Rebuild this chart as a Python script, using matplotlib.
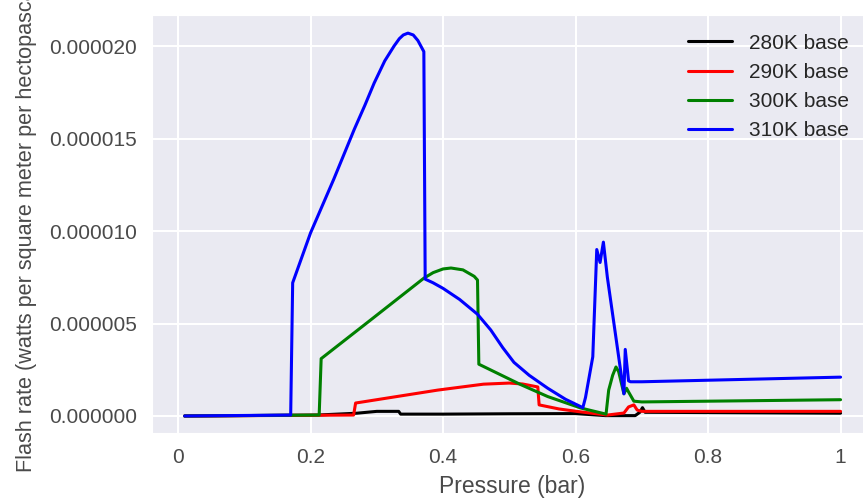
import matplotlib
matplotlib.use("Agg")
from matplotlib import pyplot as plt
from matplotlib.ticker import FormatStrFormatter, FuncFormatter
import seaborn as sns

sns.set_style("darkgrid")
plt.rcParams['font.family'] = ['Liberation Sans', 'DejaVu Sans']

# flash rate values, in units of 1e-6
p_280 = [0.01, 0.21, 0.27, 0.30, 0.333, 0.336, 0.40, 0.50, 0.60, 0.645, 0.69,
         0.697, 0.701, 0.705, 1.0]
f_280 = [0.0, 0.05, 0.15, 0.25, 0.25, 0.1, 0.1, 0.12, 0.13, 0.02, 0.02,
         0.2, 0.45, 0.2, 0.15]

p_290 = [0.01, 0.265, 0.268, 0.392, 0.461, 0.50, 0.52, 0.543, 0.545, 0.575,
         0.608, 0.648, 0.673, 0.680, 0.688, 0.693, 0.70, 1.0]
f_290 = [0.0, 0.05, 0.7, 1.4, 1.72, 1.78, 1.73, 1.57, 0.6, 0.38,
         0.22, 0.05, 0.16, 0.49, 0.6, 0.32, 0.25, 0.25]

p_300 = [0.01, 0.213, 0.216, 0.291, 0.371, 0.385, 0.40, 0.412, 0.43, 0.447,
         0.452, 0.454, 0.517, 0.558, 0.608, 0.646, 0.650, 0.656, 0.661, 0.665,
         0.673, 0.677, 0.680, 0.688, 0.70, 1.0]
f_300 = [0.0, 0.05, 3.1, 5.2, 7.45, 7.75, 7.95, 8.0, 7.9, 7.55,
         7.35, 2.8, 1.7, 1.05, 0.43, 0.1, 1.4, 2.2, 2.65, 2.4,
         1.2, 1.5, 1.3, 0.8, 0.76, 0.88]

p_310 = [0.01, 0.17, 0.173, 0.20, 0.235, 0.266, 0.282, 0.296, 0.312, 0.326,
         0.334, 0.34, 0.347, 0.355, 0.362, 0.371, 0.373, 0.385, 0.40, 0.425,
         0.452, 0.472, 0.49, 0.507, 0.53, 0.558, 0.585, 0.611, 0.615, 0.626,
         0.632, 0.637, 0.642, 0.648, 0.673, 0.675, 0.680, 0.683, 0.70, 1.0]
f_310 = [0.0, 0.05, 7.2, 9.9, 12.8, 15.5, 16.8, 18.0, 19.2, 20.0,
         20.4, 20.6, 20.7, 20.6, 20.3, 19.7, 7.4, 7.2, 6.9, 6.3,
         5.5, 4.65, 3.7, 2.9, 2.2, 1.5, 0.9, 0.45, 1.0, 3.2,
         9.0, 8.3, 9.4, 7.5, 1.2, 3.6, 1.9, 1.85, 1.85, 2.1]

series = [("280K base", p_280, f_280, "black"),
          ("290K base", p_290, f_290, "red"),
          ("300K base", p_300, f_300, "green"),
          ("310K base", p_310, f_310, "blue")]

fig = plt.figure(figsize=(8.63, 5), dpi=100)
ax = fig.add_axes([0.176, 0.134, 0.836, 0.836])

for name, p, f, c in series:
    ax.plot(p, [v * 1e-6 for v in f], color=c, lw=2.2, label=name)

ax.set_ylim(-0.92e-6, 2.168e-5)
ax.yaxis.set_major_formatter(FormatStrFormatter('%.6f'))
ax.xaxis.set_major_formatter(FuncFormatter(lambda v, pos: '%g' % round(v, 3)))
ax.set_xticks([0, 0.2, 0.4, 0.6, 0.8, 1.0])
ax.set_yticks([0, 5e-6, 10e-6, 15e-6, 20e-6])
ax.tick_params(labelsize=15, colors='#4a4a4a', pad=7)
ax.grid(color='white', lw=1.5)

ax.set_xlabel('Pressure (bar)', fontsize=16.5, color='#4a4a4a', labelpad=6)
ax.set_ylabel('Flash rate (watts per square meter per hectopascal)',
              fontsize=15.6, color='#4a4a4a', labelpad=9)

ax.legend(loc='upper right', fontsize=15, frameon=False, handlelength=2.1,
          borderaxespad=0.5, labelspacing=0.49, bbox_to_anchor=(0.992, 1.0))

fig.savefig('out.png', dpi=100)
